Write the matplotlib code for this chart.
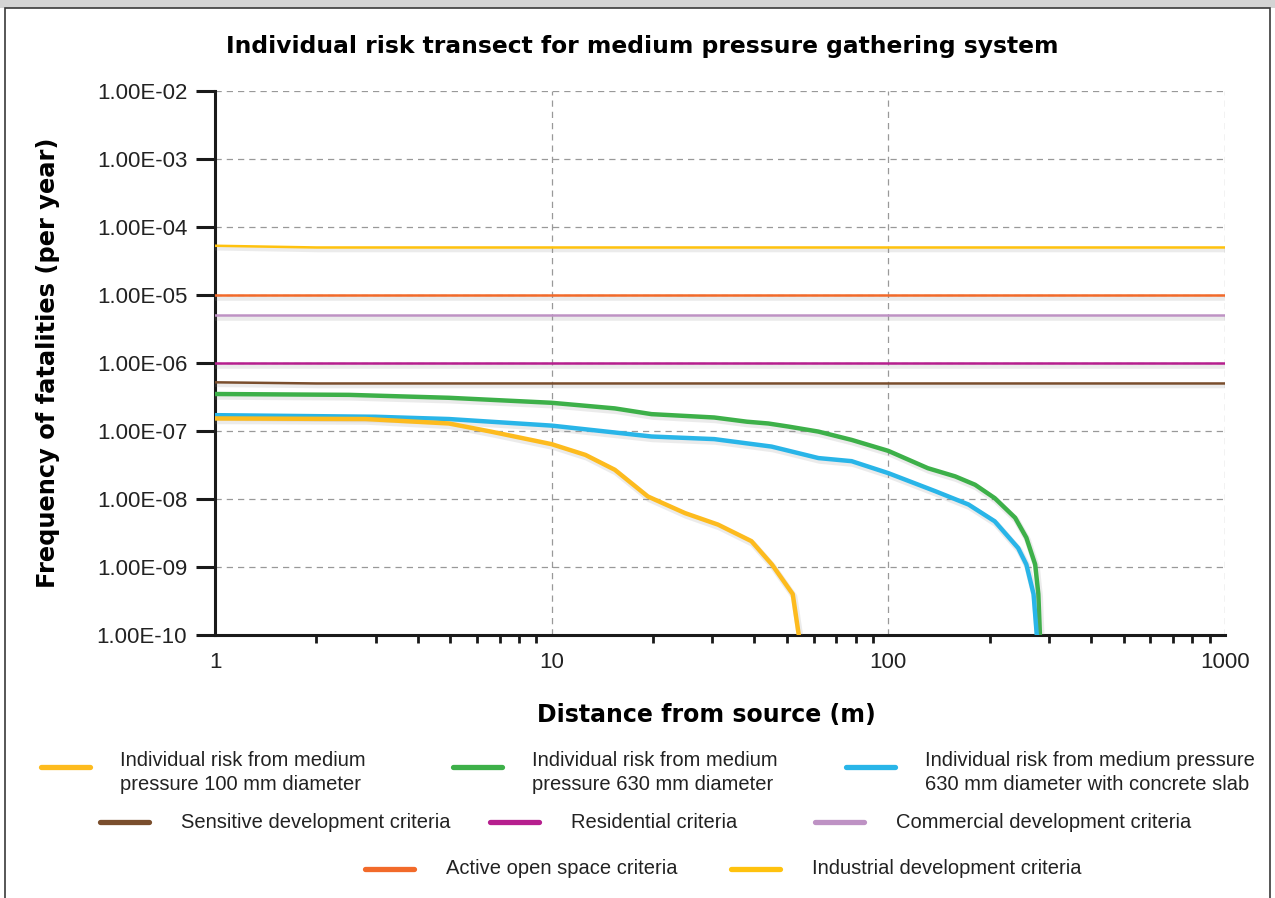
import matplotlib
matplotlib.use('Agg')
import matplotlib.pyplot as plt
import matplotlib.patheffects as pe
from matplotlib.ticker import FixedLocator, LogLocator, FuncFormatter, NullFormatter
from matplotlib.lines import Line2D
from matplotlib.patches import Rectangle

# risk transects (distance in m, frequency per year)
dist_100 = [1, 2.8, 4.95, 6.6, 10, 12.6, 15.4, 19.3, 24.9, 31.2, 39.2, 45.1, 52, 54.2]
risk_100 = [1.53e-7, 1.5e-7, 1.29e-7, 9.8e-8, 6.4e-8, 4.45e-8, 2.69e-8, 1.09e-8,
            6.2e-9, 4.2e-9, 2.4e-9, 1.09e-9, 4e-10, 1e-10]

dist_630 = [1, 2.5, 4.95, 10, 15.4, 19.8, 30.4, 38, 44, 50.6, 62, 77.8, 100, 131,
            158, 181, 207, 238, 257, 273, 279, 282]
risk_630 = [3.5e-7, 3.4e-7, 3.08e-7, 2.6e-7, 2.15e-7, 1.77e-7, 1.58e-7, 1.37e-7,
            1.29e-7, 1.16e-7, 9.8e-8, 7.4e-8, 5.1e-8, 2.84e-8, 2.15e-8, 1.62e-8,
            1.03e-8, 5.3e-9, 2.7e-9, 1.09e-9, 4e-10, 1e-10]

dist_slab = [1, 3, 4.95, 10, 19.8, 30.4, 45, 62, 77.8, 100, 138, 173, 207, 243,
             257, 270, 276]
risk_slab = [1.71e-7, 1.62e-7, 1.5e-7, 1.2e-7, 8.3e-8, 7.6e-8, 5.9e-8, 4.0e-8,
             3.6e-8, 2.4e-8, 1.3e-8, 8.3e-9, 4.7e-9, 1.9e-9, 1.09e-9, 4e-10, 1e-10]

# land use criteria
crit_dist = [1, 2, 1000]
crit_industrial = [5.3e-5, 5.0e-5, 5.0e-5]
crit_open_space = [1e-5, 1e-5, 1e-5]
crit_commercial = [5e-6, 5e-6, 5e-6]
crit_residential = [1e-6, 1e-6, 1e-6]
crit_sensitive = [5.2e-7, 5e-7, 5e-7]

y_ticks = [1e-10, 1e-9, 1e-8, 1e-7, 1e-6, 1e-5, 1e-4, 1e-3, 1e-2]
x_ticks = [1, 10, 100, 1000]

c_100 = '#FDBB1E'
c_630 = '#3DB049'
c_slab = '#29B5E8'
c_sens = '#7A4E2D'
c_res = '#B61F8E'
c_comm = '#BE92C4'
c_open = '#F26A2A'
c_ind = '#FFC20E'

narrow = ['Liberation Sans Narrow', 'Liberation Sans', 'DejaVu Sans']

W, H = 1275, 898
fig = plt.figure(figsize=(W / 100, H / 100), dpi=100)

# page frame
fig.add_artist(Rectangle((0, 1 - 8 / H), 1, 8 / H, transform=fig.transFigure,
                         facecolor='#d4d4d4', edgecolor='none', zorder=0))
fig.add_artist(Rectangle((5 / W, -0.01), 1 - 10 / W, 1 - 8 / H + 0.01,
                         transform=fig.transFigure, facecolor='white',
                         edgecolor='#3a3a3a', lw=1.2, zorder=0))

ax = fig.add_axes([215 / W, 1 - 635 / H, 1010 / W, 544 / H])
ax.set_xscale('log')
ax.set_yscale('log')
ax.set_xlim(1, 1000)
ax.set_ylim(1e-10, 1e-2)

def shadow(lw):
    return [pe.SimpleLineShadow(offset=(1, -1.8), shadow_color='#888888',
                                alpha=0.16, linewidth=lw + 1.5), pe.Normal()]

for vals, col in [(crit_industrial, c_ind), (crit_open_space, c_open),
                  (crit_commercial, c_comm), (crit_residential, c_res),
                  (crit_sensitive, c_sens)]:
    ax.plot(crit_dist, vals, color=col, lw=1.8, path_effects=shadow(1.8), zorder=3)

for d, r, col in [(dist_630, risk_630, c_630), (dist_slab, risk_slab, c_slab),
                  (dist_100, risk_100, c_100)]:
    ax.plot(d, r, color=col, lw=3.2, path_effects=shadow(3.2), zorder=4,
            solid_joinstyle='round')

ax.grid(True, which='major', color='#999999', ls=(0, (5, 4)), lw=0.9)
for s in ['top', 'right']:
    ax.spines[s].set_visible(False)
for s in ['left', 'bottom']:
    ax.spines[s].set_linewidth(2.2)
    ax.spines[s].set_color('#1a1a1a')

ax.yaxis.set_major_locator(FixedLocator(y_ticks))
ax.yaxis.set_minor_locator(FixedLocator([]))
ax.yaxis.set_major_formatter(FuncFormatter(lambda v, p: f'{v:.2E}'))
ax.xaxis.set_major_locator(FixedLocator(x_ticks))
ax.xaxis.set_minor_locator(LogLocator(base=10, subs=range(2, 10)))
ax.xaxis.set_minor_formatter(NullFormatter())
ax.xaxis.set_major_formatter(FuncFormatter(lambda v, p: f'{v:g}'))

ax.tick_params(axis='y', which='major', direction='out', length=14, width=2.2,
               color='#1a1a1a', pad=6, labelsize=16)
ax.tick_params(axis='x', which='major', direction='out', length=0, pad=12,
               labelsize=16)
ax.tick_params(axis='x', which='minor', direction='out', length=6, width=2,
               color='#1a1a1a')
for lab in ax.get_xticklabels() + ax.get_yticklabels():
    lab.set_family(narrow)
    lab.set_color('#222222')

fig.text(642 / W, 1 - 47 / H, 'Individual risk transect for medium pressure gathering system',
         ha='center', va='center', fontsize=16.8, fontweight='bold')
fig.text(706 / W, 1 - 715 / H, 'Distance from source (m)', ha='center',
         va='center', fontsize=17, fontweight='bold')
fig.text(48 / W, 1 - 363 / H, 'Frequency of fatalities (per year)', ha='center',
         va='center', rotation=90, fontsize=17.4, fontweight='bold')

# legend entries: label, colour, handle x (px), row y (px)
legend_items = [
    ('Individual risk from medium\npressure 100 mm diameter', c_100, 38, 767),
    ('Individual risk from medium\npressure 630 mm diameter', c_630, 450, 767),
    ('Individual risk from medium pressure\n630 mm diameter with concrete slab', c_slab, 843, 767),
    ('Sensitive development criteria', c_sens, 97, 822),
    ('Residential criteria', c_res, 487, 822),
    ('Commercial development criteria', c_comm, 812, 822),
    ('Active open space criteria', c_open, 362, 869),
    ('Industrial development criteria', c_ind, 728, 869),
]
for label, col, hx, hy in legend_items:
    fig.add_artist(Line2D([(hx + 3) / W, (hx + 52) / W], [1 - hy / H, 1 - hy / H],
                          transform=fig.transFigure, color=col, lw=3.8,
                          solid_capstyle='round'))
    if '\n' in label:
        fig.text((hx + 82) / W, 1 - (hy - 16) / H, label, ha='left', va='top',
                 fontsize=14.5, family=narrow, linespacing=1.35, color='#222222')
    else:
        fig.text((hx + 84) / W, 1 - hy / H, label, ha='left', va='center',
                 fontsize=14.5, family=narrow, color='#222222')

fig.savefig('out.png', dpi=100)
